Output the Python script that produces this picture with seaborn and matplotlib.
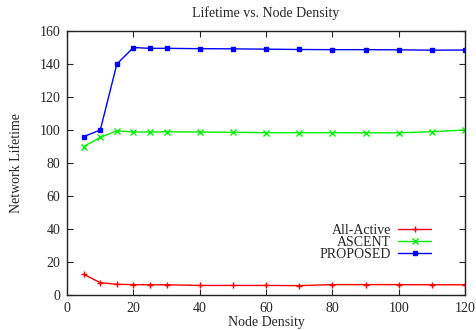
import pandas as pd
import matplotlib
matplotlib.use("Agg")
import matplotlib.pyplot as plt
import seaborn as sns

node_density = [5, 10, 15, 20, 25, 30, 40, 50, 60, 70, 80, 90, 100, 110, 120]
all_active = [12.5, 7.5, 6.5, 6.3, 6.2, 6.2, 5.8, 5.8, 5.8, 5.7, 6.3, 6.3, 6.3, 6.2, 6.2]
ascent = [90, 95.5, 99.5, 98.8, 98.8, 98.9, 98.8, 98.6, 98.4, 98.4, 98.4, 98.3, 98.3, 99, 100]
proposed = [96, 100, 140, 150, 149.5, 149.5, 149.3, 149.2, 149, 148.8, 148.7, 148.7, 148.6, 148.4, 148.5]
series = ["All-Active", "ASCENT", "PROPOSED"]
colors = ["#ff0000", "#00ee00", "#0000ff"]
markers = ["+", "x", "s"]

df = pd.DataFrame({
    "x": node_density * 3,
    "y": all_active + ascent + proposed,
    "s": [series[0]] * 15 + [series[1]] * 15 + [series[2]] * 15,
})

sns.set_style("ticks")
plt.rcParams["font.family"] = ["Liberation Serif", "DejaVu Serif"]
plt.rcParams["font.size"] = 10

fig = plt.figure(figsize=(4.76, 3.30), dpi=100)
ax = fig.add_axes([0.141, 0.106, 0.836, 0.800])

for name, c, m in zip(series, colors, markers):
    d = df[df["s"] == name]
    sns.lineplot(data=d, x="x", y="y", ax=ax, color=c, marker=m,
                 markersize=4 if m != "s" else 3, markeredgecolor=c, markerfacecolor=c,
                 markeredgewidth=1, linewidth=1, label=name)

ax.set_xlim(0, 120)
ax.set_ylim(0, 160)
ax.set_xticks(range(0, 121, 20))
ax.set_yticks(range(0, 161, 20))
ax.tick_params(direction="in", top=True, right=True, length=4, width=0.8, labelsize=10, pad=5)
for sp in ax.spines.values():
    sp.set_linewidth(1)
    sp.set_color("#222222")
ax.set_xlabel("Node Density", fontsize=10, labelpad=1)
ax.set_ylabel("Network Lifetime", fontsize=10, labelpad=12)
ax.set_title("Lifetime vs. Node Density", fontsize=10, pad=10)

leg = ax.legend(loc="upper right", bbox_to_anchor=(0.933, 0.297), frameon=False, markerfirst=False,
                handlelength=2.4, labelspacing=-0.05, fontsize=10, borderpad=0, handletextpad=0.5)
leg._legend_box.align = "right"
for t in leg.get_texts():
    t.set_ha("right")

fig.savefig("out.png", dpi=100)
